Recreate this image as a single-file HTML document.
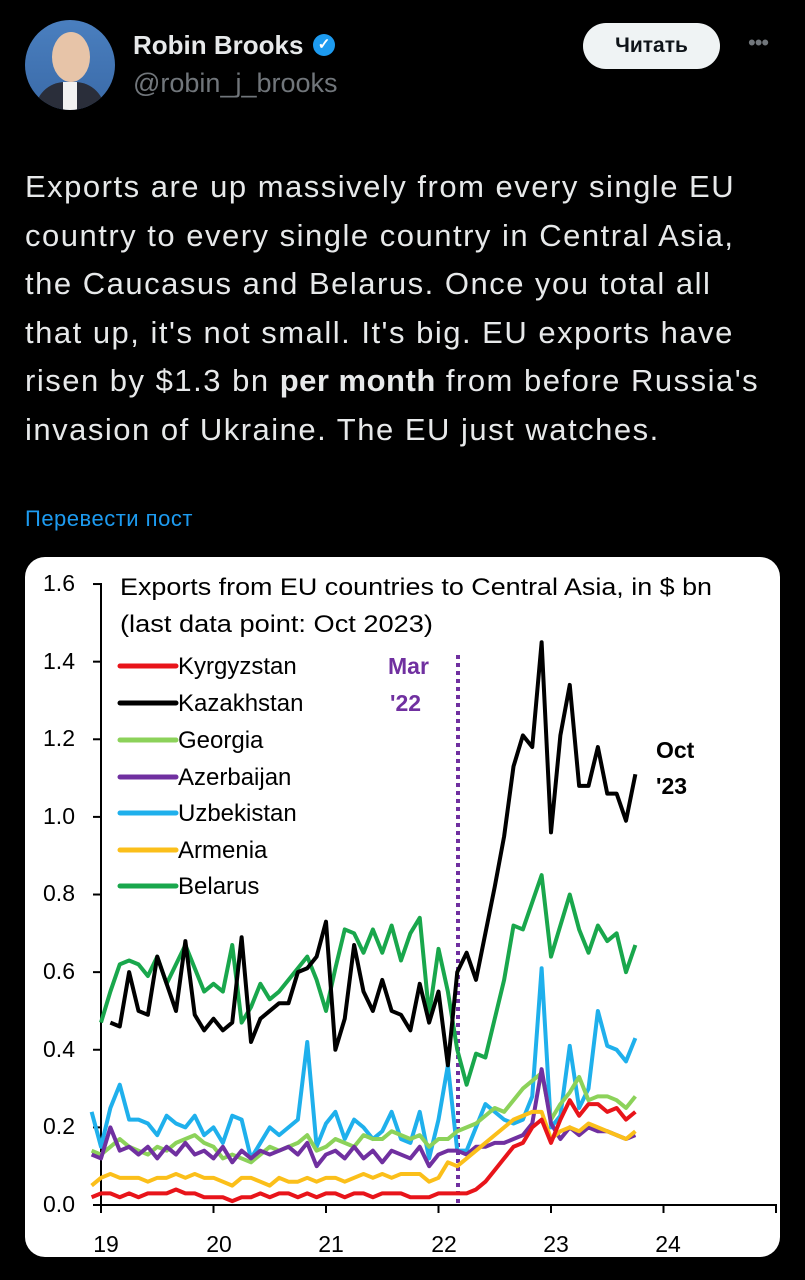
<!DOCTYPE html>
<html><head><meta charset="utf-8"><style>
body{margin:0;width:805px;height:1280px;background:#000;overflow:hidden;font-family:"Liberation Sans",sans-serif;color:#e7e9ea;position:relative}
.abs{position:absolute}
</style></head><body>
<div class="abs" style="left:25px;top:20px;width:90px;height:90px;border-radius:50%;background:linear-gradient(#4a7fbf,#3a6aa8);overflow:hidden">
 <div class="abs" style="left:27px;top:12px;width:38px;height:50px;border-radius:50%;background:#e7c4a8"></div>
 <div class="abs" style="left:10px;top:62px;width:70px;height:40px;border-radius:30px 30px 0 0;background:#2a2e3a"></div>
 <div class="abs" style="left:38px;top:62px;width:14px;height:28px;background:#f2f2f2"></div>
</div>
<div class="abs" style="left:133px;top:30px;font-size:26px;font-weight:bold;color:#e7e9ea">Robin Brooks</div>
<div class="abs" style="left:313px;top:34px;width:22px;height:22px;border-radius:50%;background:#1d9bf0;color:#fff;font-size:15px;text-align:center;line-height:22px;font-weight:bold">✓</div>
<div class="abs" style="left:133px;top:68px;font-size:27px;color:#71767b">@robin_j_brooks</div>
<div class="abs" style="left:583px;top:23px;width:137px;height:46px;border-radius:23px;background:#eff3f4;color:#0f1419;font-size:21px;font-weight:bold;text-align:center;line-height:46px">Читать</div>
<div class="abs" style="left:748px;top:30px;font-size:22px;color:#71767b;letter-spacing:-1px">•••</div>
<div class="abs" style="left:25px;top:163px;font-size:31px;line-height:48.5px;width:790px;white-space:nowrap;color:#e7e9ea;letter-spacing:1.5px">Exports are up massively from every single EU<br>country to every single country in Central Asia,<br>the Caucasus and Belarus. Once you total all<br>that up, it's not small. It's big. EU exports have<br>risen by $1.3 bn <b style="letter-spacing:0.5px">per month</b> from before Russia's<br>invasion of Ukraine. The EU just watches.</div>
<div class="abs" style="left:25px;top:506px;font-size:22px;color:#1d9bf0;letter-spacing:0.5px">Перевести пост</div>
<div class="abs" style="left:25px;top:557px;width:755px;height:700px;border-radius:20px;background:#fff"></div>
<svg class="abs" style="left:0;top:0" width="805" height="1280" id="s" font-family="'Liberation Sans',sans-serif">
<g stroke="#000" stroke-width="2" fill="none">
<line x1="101" y1="583" x2="101" y2="1205"/>
<line x1="101" y1="1205" x2="777" y2="1205"/>
</g>
<g id="ticks" stroke="#000" stroke-width="2"></g>
<g font-size="23" fill="#000" text-anchor="end">
<text x="75" y="591">1.6</text><text x="75" y="669">1.4</text><text x="75" y="746">1.2</text><text x="75" y="824">1.0</text><text x="75" y="901">0.8</text><text x="75" y="979">0.6</text><text x="75" y="1057">0.4</text><text x="75" y="1134">0.2</text><text x="75" y="1212">0.0</text>
</g>
<g font-size="23" fill="#000" text-anchor="middle">
<text x="106" y="1252">19</text><text x="219" y="1252">20</text><text x="331" y="1252">21</text><text x="444" y="1252">22</text><text x="556" y="1252">23</text><text x="668" y="1252">24</text>
</g>
<g font-size="24" fill="#000">
<text x="120" y="595" textLength="592" lengthAdjust="spacingAndGlyphs">Exports from EU countries to Central Asia, in $ bn</text>
<text x="120" y="632" textLength="313" lengthAdjust="spacingAndGlyphs">(last data point: Oct 2023)</text>
<text x="178" y="674">Kyrgyzstan</text><text x="178" y="711">Kazakhstan</text><text x="178" y="748">Georgia</text><text x="178" y="785">Azerbaijan</text><text x="178" y="821">Uzbekistan</text><text x="178" y="858">Armenia</text><text x="178" y="894">Belarus</text>
</g>
<g stroke-width="5" stroke-linecap="round">
<line x1="120" y1="666" x2="176" y2="666" stroke="#e8141a"/>
<line x1="120" y1="703" x2="176" y2="703" stroke="#000"/>
<line x1="120" y1="740" x2="176" y2="740" stroke="#8cd25a"/>
<line x1="120" y1="777" x2="176" y2="777" stroke="#7030a0"/>
<line x1="120" y1="813" x2="176" y2="813" stroke="#1fb0ec"/>
<line x1="120" y1="850" x2="176" y2="850" stroke="#fbbf1a"/>
<line x1="120" y1="886" x2="176" y2="886" stroke="#19a74c"/>
</g>
<text x="388" y="674" font-size="23" font-weight="bold" fill="#7030a0">Mar</text>
<text x="390" y="711" font-size="23" font-weight="bold" fill="#7030a0">'22</text>
<text x="656" y="758" font-size="23" font-weight="bold" fill="#000">Oct</text>
<text x="656" y="794" font-size="23" font-weight="bold" fill="#000">'23</text>
<line x1="458" y1="655" x2="458" y2="1205" stroke="#7030a0" stroke-width="4" stroke-dasharray="4,4"/>
<g id="series" fill="none" stroke-width="4" stroke-linejoin="round"></g>
</svg>
<script>
var ns="http://www.w3.org/2000/svg";
function Y(v){return 1205-v*388.1}
function X(i){return 101+i*9.375}
var t=document.getElementById('ticks');
for(var k=0;k<=8;k++){var l=document.createElementNS(ns,'line');l.setAttribute('x1',93);l.setAttribute('x2',101);l.setAttribute('y1',Y(k*0.2));l.setAttribute('y2',Y(k*0.2));t.appendChild(l);}
for(var k=0;k<=6;k++){var l=document.createElementNS(ns,'line');var x=101+k*112.5;if(k==6)x=776;l.setAttribute('x1',x);l.setAttribute('x2',x);l.setAttribute('y1',1205);l.setAttribute('y2',1213);t.appendChild(l);}
var D={
"#1fb0ec":[0.24,0.15,0.25,0.31,0.22,0.22,0.21,0.18,0.23,0.21,0.20,0.23,0.18,0.20,0.16,0.23,0.22,0.12,0.16,0.20,0.18,0.20,0.22,0.42,0.15,0.21,0.24,0.17,0.22,0.20,0.17,0.19,0.24,0.17,0.16,0.24,0.12,0.22,0.36,0.14,0.14,0.20,0.26,0.24,0.22,0.21,0.22,0.28,0.61,0.20,0.23,0.41,0.25,0.30,0.50,0.41,0.40,0.37,0.43],
"#8cd25a":[0.14,0.13,0.15,0.17,0.15,0.14,0.13,0.15,0.14,0.16,0.17,0.18,0.16,0.15,0.12,0.13,0.12,0.11,0.13,0.15,0.14,0.15,0.16,0.18,0.14,0.15,0.17,0.16,0.15,0.18,0.17,0.17,0.19,0.18,0.17,0.18,0.15,0.17,0.17,0.19,0.20,0.21,0.23,0.25,0.24,0.27,0.30,0.32,0.34,0.22,0.26,0.29,0.33,0.27,0.28,0.28,0.27,0.25,0.28],
"#7030a0":[0.13,0.12,0.20,0.14,0.15,0.13,0.15,0.12,0.15,0.13,0.16,0.13,0.14,0.12,0.15,0.11,0.14,0.12,0.14,0.13,0.14,0.15,0.13,0.16,0.10,0.13,0.14,0.12,0.15,0.12,0.14,0.11,0.14,0.13,0.12,0.15,0.10,0.13,0.14,0.14,0.13,0.15,0.15,0.16,0.16,0.17,0.18,0.21,0.35,0.21,0.17,0.20,0.18,0.20,0.19,0.19,0.18,0.17,0.18],
"#fbbf1a":[0.05,0.07,0.08,0.07,0.07,0.07,0.06,0.07,0.07,0.08,0.07,0.08,0.07,0.07,0.06,0.05,0.07,0.07,0.06,0.05,0.07,0.06,0.06,0.07,0.06,0.07,0.07,0.06,0.07,0.08,0.07,0.08,0.07,0.08,0.08,0.08,0.06,0.07,0.11,0.10,0.12,0.14,0.16,0.18,0.20,0.22,0.23,0.24,0.24,0.17,0.19,0.20,0.19,0.21,0.20,0.19,0.18,0.17,0.19],
"#e8141a":[0.02,0.03,0.03,0.02,0.03,0.02,0.03,0.03,0.03,0.04,0.03,0.03,0.02,0.02,0.02,0.01,0.02,0.02,0.03,0.02,0.03,0.03,0.02,0.03,0.02,0.03,0.03,0.02,0.03,0.03,0.02,0.03,0.03,0.03,0.02,0.02,0.02,0.03,0.03,0.03,0.03,0.04,0.06,0.09,0.12,0.15,0.16,0.20,0.22,0.16,0.22,0.27,0.23,0.26,0.26,0.24,0.25,0.22,0.24],
"#19a74c":[0.47,0.55,0.62,0.63,0.62,0.59,0.64,0.57,0.62,0.67,0.61,0.55,0.57,0.55,0.67,0.47,0.51,0.57,0.53,0.55,0.58,0.61,0.64,0.58,0.50,0.61,0.71,0.70,0.65,0.71,0.65,0.72,0.63,0.70,0.74,0.49,0.66,0.55,0.40,0.31,0.39,0.38,0.48,0.58,0.72,0.71,0.78,0.85,0.64,0.72,0.80,0.71,0.65,0.72,0.68,0.70,0.60,0.67],
"#000":[0.47,0.46,0.60,0.50,0.49,0.64,0.57,0.50,0.68,0.49,0.45,0.48,0.45,0.47,0.69,0.42,0.48,0.50,0.52,0.52,0.60,0.61,0.64,0.73,0.40,0.48,0.67,0.55,0.50,0.58,0.50,0.49,0.45,0.57,0.47,0.55,0.36,0.60,0.65,0.58,0.70,0.82,0.95,1.13,1.21,1.18,1.45,0.96,1.21,1.34,1.08,1.08,1.18,1.06,1.06,0.99,1.11]
};
var g=document.getElementById('series');
for(var c in D){var p=document.createElementNS(ns,'polyline');var a=D[c],s=[];var off=57-(a.length-1);for(var i=0;i<a.length;i++)s.push(X(i+off)+','+Y(a[i]));p.setAttribute('points',s.join(' '));p.setAttribute('stroke',c);g.appendChild(p);}
</script>
</body></html>
